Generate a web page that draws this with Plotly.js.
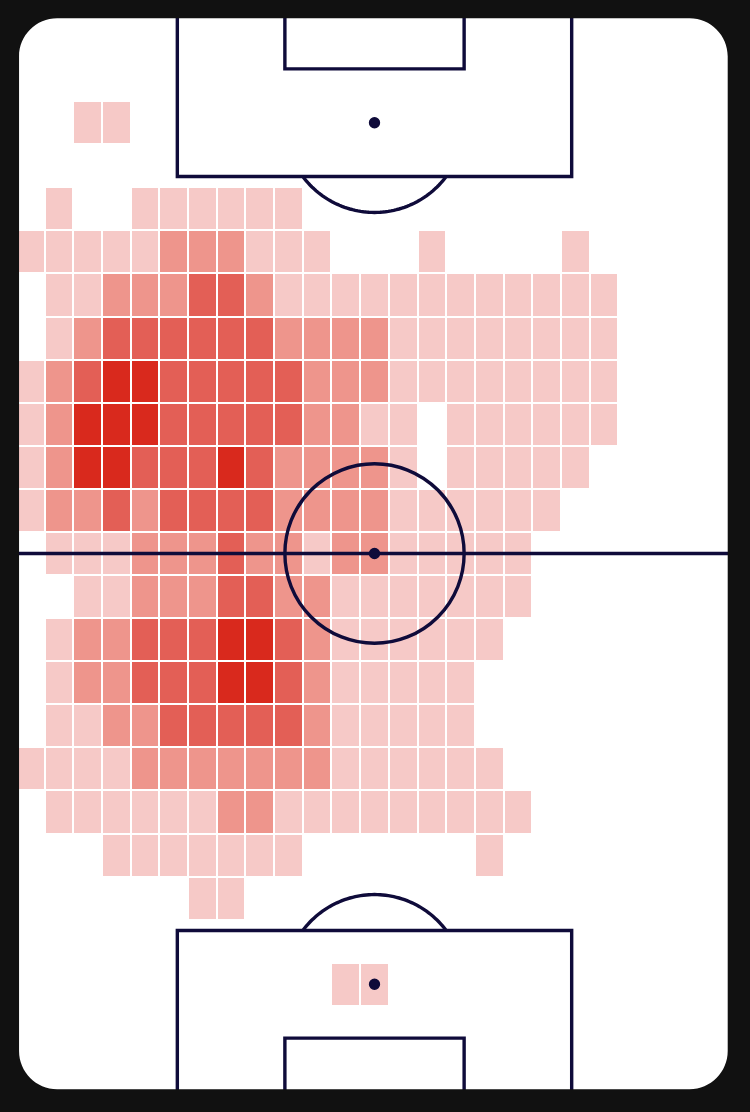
<!DOCTYPE html>
<html>
<head>
<meta charset="utf-8">
<script src="https://cdn.plot.ly/plotly-3.0.1.min.js"></script>
<style>
  html, body { margin: 0; padding: 0; background: #111111; }
  #chart { width: 750px; height: 1112px; }
</style>
</head>
<body>
<div id="chart"></div>
<script>
// Pitch in StatsBomb-style units: 80 wide, 120 long, drawn vertically.
const PITCH_W = 80;
const PITCH_L = 120;
const COLS = 25;
const ROWS = 25;

// Intensity level of each zone (0 = no activity, 1 light … 4 darkest), top row first.
const zoneLevels = [
  [0,0,0,0,0,0,0,0,0,0,0,0,0,0,0,0,0,0,0,0,0,0,0,0,0],
  [0,0,0,0,0,0,0,0,0,0,0,0,0,0,0,0,0,0,0,0,0,0,0,0,0],
  [0,0,1,1,0,0,0,0,0,0,0,0,0,0,0,0,0,0,0,0,0,0,0,0,0],
  [0,0,0,0,0,0,0,0,0,0,0,0,0,0,0,0,0,0,0,0,0,0,0,0,0],
  [0,1,0,0,1,1,1,1,1,1,0,0,0,0,0,0,0,0,0,0,0,0,0,0,0],
  [1,1,1,1,1,2,2,2,1,1,1,0,0,0,1,0,0,0,0,1,0,0,0,0,0],
  [0,1,1,2,2,2,3,3,2,1,1,1,1,1,1,1,1,1,1,1,1,0,0,0,0],
  [0,1,2,3,3,3,3,3,3,2,2,2,2,1,1,1,1,1,1,1,1,0,0,0,0],
  [1,2,3,4,4,3,3,3,3,3,2,2,2,1,1,1,1,1,1,1,1,0,0,0,0],
  [1,2,4,4,4,3,3,3,3,3,2,2,1,1,0,1,1,1,1,1,1,0,0,0,0],
  [1,2,4,4,3,3,3,4,3,2,2,2,2,1,0,1,1,1,1,1,0,0,0,0,0],
  [1,2,2,3,2,3,3,3,3,2,2,2,2,1,1,1,1,1,1,0,0,0,0,0,0],
  [0,1,1,1,2,2,2,3,2,2,1,2,2,1,1,1,1,1,0,0,0,0,0,0,0],
  [0,0,1,1,2,2,2,3,3,2,2,1,1,1,1,1,1,1,0,0,0,0,0,0,0],
  [0,1,2,2,3,3,3,4,4,3,2,1,1,1,1,1,1,0,0,0,0,0,0,0,0],
  [0,1,2,2,3,3,3,4,4,3,2,1,1,1,1,1,0,0,0,0,0,0,0,0,0],
  [0,1,1,2,2,3,3,3,3,3,2,1,1,1,1,1,0,0,0,0,0,0,0,0,0],
  [1,1,1,1,2,2,2,2,2,2,2,1,1,1,1,1,1,0,0,0,0,0,0,0,0],
  [0,1,1,1,1,1,1,2,2,1,1,1,1,1,1,1,1,1,0,0,0,0,0,0,0],
  [0,0,0,1,1,1,1,1,1,1,0,0,0,0,0,0,1,0,0,0,0,0,0,0,0],
  [0,0,0,0,0,0,1,1,0,0,0,0,0,0,0,0,0,0,0,0,0,0,0,0,0],
  [0,0,0,0,0,0,0,0,0,0,0,0,0,0,0,0,0,0,0,0,0,0,0,0,0],
  [0,0,0,0,0,0,0,0,0,0,0,1,1,0,0,0,0,0,0,0,0,0,0,0,0],
  [0,0,0,0,0,0,0,0,0,0,0,0,0,0,0,0,0,0,0,0,0,0,0,0,0],
  [0,0,0,0,0,0,0,0,0,0,0,0,0,0,0,0,0,0,0,0,0,0,0,0,0]
];

const levelColors = ['#f6c9c7', '#ee958c', '#e35f56', '#d9291d'];

const LINE = '#0f0b3a';
const LW = 3.4;

const zData = zoneLevels.map(r => r.map(v => (v === 0 ? null : v)));

const colorscale = [
  [0.00, levelColors[0]], [0.25, levelColors[0]],
  [0.25, levelColors[1]], [0.50, levelColors[1]],
  [0.50, levelColors[2]], [0.75, levelColors[2]],
  [0.75, levelColors[3]], [1.00, levelColors[3]]
];

const heat = {
  type: 'heatmap',
  z: zData,
  x0: PITCH_W / COLS / 2, dx: PITCH_W / COLS,
  y0: PITCH_L / ROWS / 2, dy: PITCH_L / ROWS,
  zmin: 0.5, zmax: 4.5,
  colorscale: colorscale,
  showscale: false,
  xgap: 2, ygap: 2,
  hoverinfo: 'skip'
};

function arcPath(cx, cy, r, t0, t1, sign) {
  const n = 60;
  let p = '';
  for (let i = 0; i <= n; i++) {
    const t = t0 + (t1 - t0) * i / n;
    const x = cx + r * Math.cos(t);
    const y = cy + sign * r * Math.sin(t);
    p += (i === 0 ? 'M ' : ' L ') + x.toFixed(3) + ',' + y.toFixed(3);
  }
  return p;
}

const ln = { color: LINE, width: LW };
const shapes = [];
function rect(x0, y0, x1, y1) {
  shapes.push({ type: 'rect', xref: 'x', yref: 'y', x0, y0, x1, y1, line: ln, fillcolor: 'rgba(0,0,0,0)', layer: 'above' });
}
function lineS(x0, y0, x1, y1) {
  shapes.push({ type: 'line', xref: 'x', yref: 'y', x0, y0, x1, y1, line: ln, layer: 'above' });
}
function spot(cx, cy) {
  const r = 0.55;
  shapes.push({ type: 'circle', xref: 'x', yref: 'y', x0: cx - r, x1: cx + r, y0: cy - r, y1: cy + r,
    fillcolor: LINE, line: { color: LINE, width: 1.5 }, layer: 'above' });
}

// pitch outline
rect(0, 0, 80, 120);
// halfway line
lineS(0, 60, 80, 60);
// centre circle and spot
shapes.push({ type: 'circle', xref: 'x', yref: 'y', x0: 30, x1: 50, y0: 50, y1: 70, line: ln, fillcolor: 'rgba(0,0,0,0)', layer: 'above' });
spot(40, 60);
// top penalty area, six-yard box, spot, arc
rect(18, 0, 62, 18);
rect(30, 0, 50, 6);
spot(40, 12);
const ta = Math.asin(0.6);
shapes.push({ type: 'path', xref: 'x', yref: 'y', path: arcPath(40, 12, 10, ta, Math.PI - ta, 1), line: ln, layer: 'above' });
// bottom penalty area, six-yard box, spot, arc
rect(18, 102, 62, 120);
rect(30, 114, 50, 120);
spot(40, 108);
shapes.push({ type: 'path', xref: 'x', yref: 'y', path: arcPath(40, 108, 10, ta, Math.PI - ta, -1), line: ln, layer: 'above' });

// dark frame with rounded inner corners
(function () {
  const a = 0.34, b = 79.41, c = 0.36, d = 119.69, r = 4.25, k = 0.552 * r;
  const outer = 'M -5,-5 L 85,-5 L 85,125 L -5,125 Z';
  const inner =
    `M ${a + r},${c} C ${a + r - k},${c} ${a},${c + r - k} ${a},${c + r}` +
    ` L ${a},${d - r} C ${a},${d - r + k} ${a + r - k},${d} ${a + r},${d}` +
    ` L ${b - r},${d} C ${b - r + k},${d} ${b},${d - r + k} ${b},${d - r}` +
    ` L ${b},${c + r} C ${b},${c + r - k} ${b - r + k},${c} ${b - r},${c} Z`;
  shapes.push({ type: 'path', xref: 'x', yref: 'y', path: outer + ' ' + inner,
    fillcolor: '#111111', fillrule: 'evenodd', line: { width: 0, color: 'rgba(0,0,0,0)' }, layer: 'above' });
})();

const layout = {
  width: 750, height: 1112,
  margin: { l: 16, r: 17, t: 15, b: 20, pad: 0 },
  paper_bgcolor: '#111111',
  plot_bgcolor: '#ffffff',
  xaxis: { range: [0, PITCH_W], visible: false, fixedrange: true },
  yaxis: { range: [PITCH_L, 0], visible: false, fixedrange: true },
  showlegend: false,
  shapes: shapes
};

Plotly.newPlot('chart', [heat], layout, { staticPlot: true, displayModeBar: false });
</script>
</body>
</html>
